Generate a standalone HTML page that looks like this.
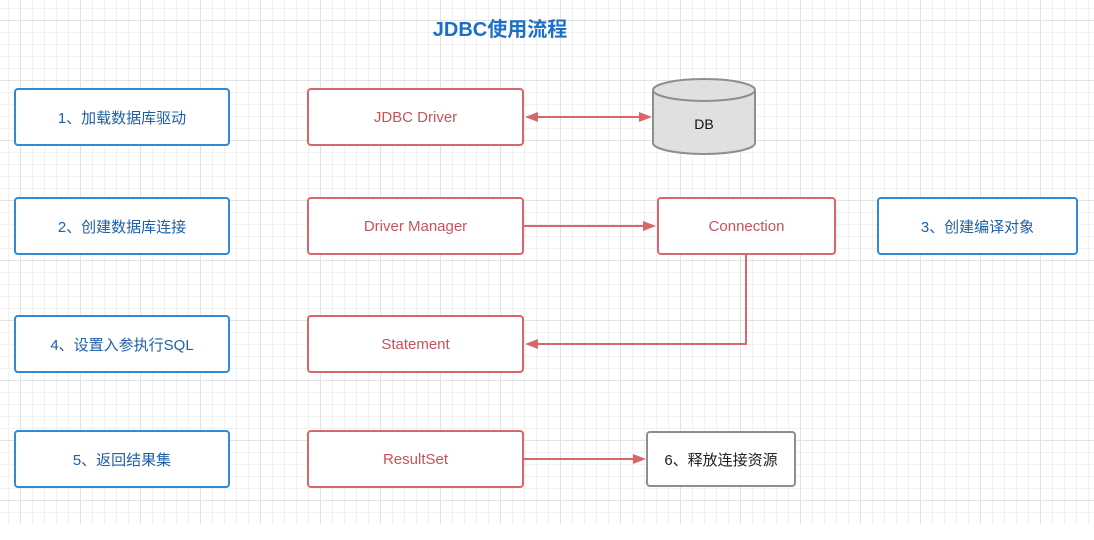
<!DOCTYPE html>
<html><head><meta charset="utf-8"><style>
html,body{margin:0;padding:0}
body{width:1094px;height:540px;position:relative;overflow:hidden;background:#fff;font-family:"Liberation Sans","Noto Sans CJK SC",sans-serif}
.grid{position:absolute;left:0;top:0;width:1094px;height:524px;
background-image:
linear-gradient(to right,#e2e2e2 1px,transparent 1px),
linear-gradient(to bottom,#e2e2e2 1px,transparent 1px),
linear-gradient(to right,#f1f1f1 1px,transparent 1px),
linear-gradient(to bottom,#f1f1f1 1px,transparent 1px);
background-size:60px 60px,60px 60px,12px 12px,12px 12px;
background-position:20px 20px,20px 20px,8px 8px,8px 8px}
.b{position:absolute;box-sizing:border-box;border-radius:4px;background:#fff;display:flex;align-items:center;justify-content:center;font-size:15px}
.blue{border:2px solid #2f8ad8;color:#1f5fa6}
.red{border:2px solid #d9666b;color:#c9535a}
.gray{border:2px solid #8e8e8e;color:#222}
h1{position:absolute;left:0;width:1000px;top:13px;margin:0;text-align:center;font-size:20px;color:#1a6fc8;font-weight:bold}
</style></head><body>
<div class="grid"></div>
<h1>JDBC使用流程</h1>
<div class="b blue" style="left:14px;top:88px;width:216px;height:58px">1、加载数据库驱动</div>
<div class="b blue" style="left:14px;top:197px;width:216px;height:58px">2、创建数据库连接</div>
<div class="b blue" style="left:14px;top:315px;width:216px;height:58px">4、设置入参执行SQL</div>
<div class="b blue" style="left:14px;top:430px;width:216px;height:58px">5、返回结果集</div>
<div class="b blue" style="left:877px;top:197px;width:201px;height:58px">3、创建编译对象</div>
<div class="b red" style="left:307px;top:88px;width:217px;height:58px">JDBC Driver</div>
<div class="b red" style="left:307px;top:197px;width:217px;height:58px">Driver Manager</div>
<div class="b red" style="left:657px;top:197px;width:179px;height:58px">Connection</div>
<div class="b red" style="left:307px;top:315px;width:217px;height:58px">Statement</div>
<div class="b red" style="left:307px;top:430px;width:217px;height:58px">ResultSet</div>
<div class="b gray" style="left:646px;top:431px;width:150px;height:56px">6、释放连接资源</div>
<svg style="position:absolute;left:0;top:0" width="1094" height="540">
<path d="M653,90 L653,143 A51,11 0 0 0 755,143 L755,90" fill="#e0e0e0" stroke="#8e8e8e" stroke-width="2"/>
<ellipse cx="704" cy="90" rx="51" ry="11" fill="#e0e0e0" stroke="#8e8e8e" stroke-width="2"/>
<text x="704" y="129" font-size="14" text-anchor="middle" font-family="Liberation Sans,sans-serif" fill="#111">DB</text>
<g stroke="#d9666b" stroke-width="2" fill="none">
<line x1="536" y1="117" x2="640" y2="117"/>
<line x1="524" y1="226" x2="645" y2="226"/>
<polyline points="746,255 746,344 536,344"/>
<line x1="524" y1="459" x2="634" y2="459"/>
</g>
<g fill="#d9666b">
<polygon points="525,117 538,112 538,122"/>
<polygon points="652,117 639,112 639,122"/>
<polygon points="656,226 643,221 643,231"/>
<polygon points="525,344 538,339 538,349"/>
<polygon points="646,459 633,454 633,464"/>
</g>
</svg>
</body></html>
